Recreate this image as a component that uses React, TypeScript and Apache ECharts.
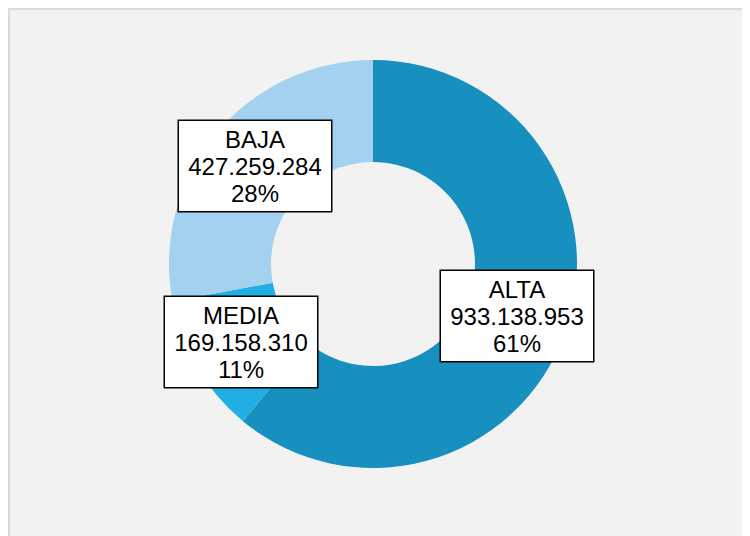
import React, { useEffect, useRef } from "react";
import * as echarts from "echarts";

const categories = ["ALTA", "MEDIA", "BAJA"];
const values = [933138953, 169158310, 427259284];
const colors = ["#178fbf", "#20aee5", "#a3d1ef"];

const labelPos: Record<string, [number, number]> = {
  ALTA: [507, 306],
  MEDIA: [231, 332],
  BAJA: [245, 156],
};

function fmt(n: number): string {
  return String(n).replace(/\B(?=(\d{3})+(?!\d))/g, ".");
}

export default function App() {
  const ref = useRef<HTMLDivElement>(null);
  useEffect(() => {
    if (!ref.current) return;
    const chart = echarts.init(ref.current, null, { renderer: "svg" });
    chart.setOption({
      animation: false,
      backgroundColor: "#f2f2f2",
      series: [
        {
          type: "pie",
          center: [363, 254],
          radius: [102, 204],
          startAngle: 90,
          clockwise: true,
          silent: true,
          data: categories.map((c, i) => ({
            name: c,
            value: values[i],
            itemStyle: { color: colors[i] },
          })),
          labelLine: { show: false },
          label: {
            show: true,
            position: "outside",
            formatter: (p: any) =>
              `${p.name}\n${fmt(p.value)}\n${Math.round(p.percent)}%`,
            fontFamily: "Liberation Sans, Arial, sans-serif",
            fontSize: 24,
            lineHeight: 27,
            color: "#000",
            backgroundColor: "#ffffff",
            borderColor: "#000000",
            borderWidth: 1.5,
            padding: [5, 9, 4, 9],
            width: 134,
            overflow: "none",
            align: "center",
          },
          labelLayout: (params: any) => {
            const name = categories[params.dataIndex];
            const pos = labelPos[name];
            return {
              x: pos[0],
              y: pos[1],
              align: "center",
              verticalAlign: "middle",
              hideOverlap: false,
            };
          },
        },
      ],
    });
    return () => chart.dispose();
  }, []);
  return (
    <div
      style={{
        width: 750,
        height: 536,
        border: "2px solid #d9d9d9",
        boxSizing: "border-box",
        background: "#f2f2f2",
      }}
    >
      <div ref={ref} style={{ width: 746, height: 532 }} />
    </div>
  );
}
